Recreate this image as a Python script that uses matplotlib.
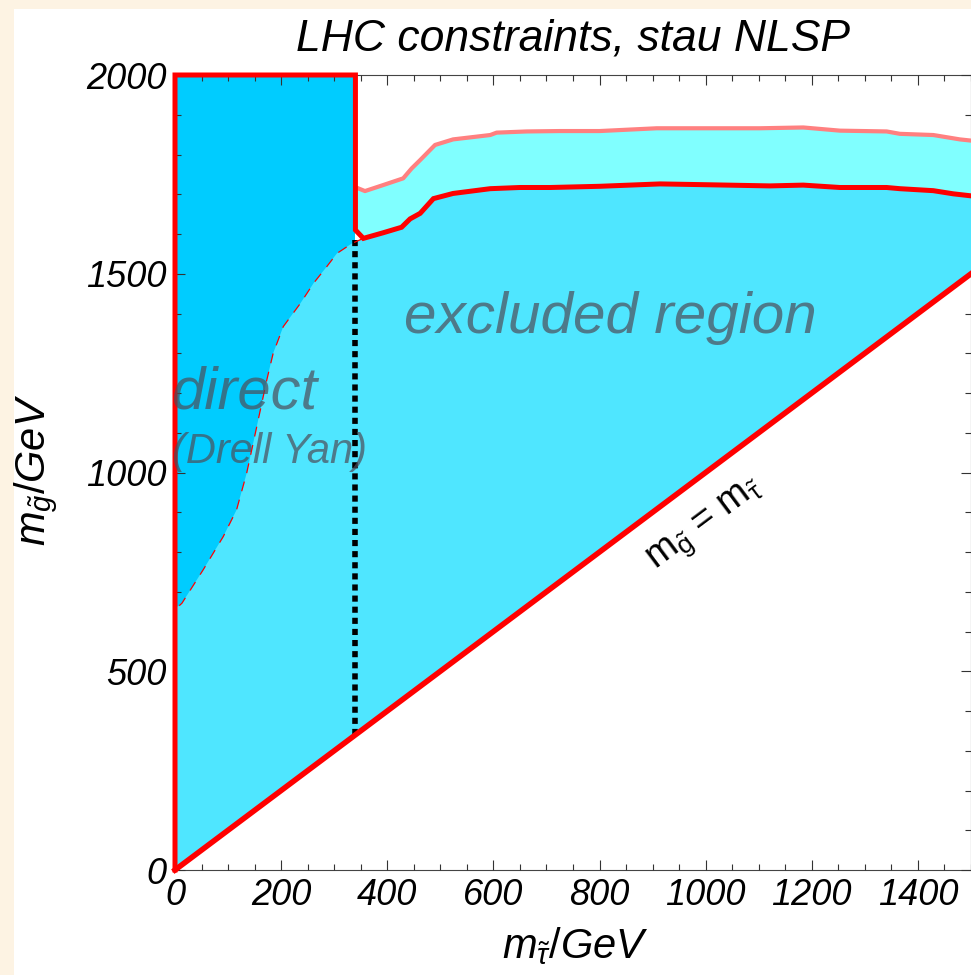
import matplotlib
matplotlib.use('Agg')
import matplotlib.pyplot as plt
from matplotlib.patches import Rectangle
from matplotlib.ticker import MultipleLocator

plt.rcParams['font.family'] = ['Liberation Sans', 'DejaVu Sans']
plt.rcParams['mathtext.fontset'] = 'custom'
plt.rcParams['mathtext.rm'] = 'Liberation Sans'
plt.rcParams['mathtext.it'] = 'Liberation Sans:italic'

# Drell-Yan direct bound on the stau mass and plot ranges
dy_bound = 340
x_max = 1500
y_max = 2000

# dashed curve: edge of the directly excluded region (Drell Yan)
dashed_x = [8, 13, 53, 91, 116, 135, 154, 173, 185, 204, 236, 261, 286, 305, 333, 355]
dashed_y = [665, 671, 755, 839, 906, 998, 1115, 1233, 1300, 1367, 1425, 1476, 1518, 1551, 1576, 1589]

# solid red curve: gluino limit
red_x = [340, 355, 392, 427, 443, 462, 487, 524, 594, 650, 707, 800, 914, 1000, 1121, 1184,
         1253, 1341, 1366, 1429, 1467, 1500]
red_y = [1610, 1589, 1603, 1617, 1638, 1652, 1689, 1702, 1714, 1717, 1717, 1720, 1726, 1724,
         1721, 1723, 1717, 1717, 1714, 1709, 1701, 1696]

# light red curve: expected / upper limit
pink_x = [340, 345, 358, 392, 430, 446, 462, 490, 524, 594, 606, 663, 725, 800, 908, 1000,
          1102, 1184, 1253, 1341, 1366, 1429, 1479, 1500]
pink_y = [1718, 1715, 1708, 1723, 1740, 1765, 1786, 1824, 1838, 1849, 1855, 1858, 1859, 1859,
          1866, 1866, 1866, 1868, 1860, 1858, 1852, 1849, 1838, 1835]

# diagonal m_gluino = m_stau
diag = [0, 1500]

fig = plt.figure(figsize=(9.71, 9.75), dpi=100)
fig.patch.set_facecolor('#fdf3e3')
fig.patches.append(Rectangle((14 / 971, 0), 1, 1 - 9 / 975, transform=fig.transFigure,
                             facecolor='white', edgecolor='none', zorder=-1))

ax = fig.add_axes([175 / 971, 1 - 870 / 975, 796 / 971, 795 / 975])
ax.set_facecolor('white')

# direct (Drell Yan) region, above the diagonal
ax.fill([0, 0, dy_bound, dy_bound], [0, y_max, y_max, dy_bound], color='#00ccff', lw=0, zorder=1)

# excluded region below the gluino limit
poly_x = [0, 0] + dashed_x + red_x[2:] + [x_max]
poly_y = [0, 660] + dashed_y + red_y[2:] + [diag[1]]
ax.fill(poly_x, poly_y, color='#4fe6ff', lw=0, zorder=2)

# band between limit curves
ax.fill(pink_x + red_x[::-1], pink_y + red_y[::-1], color='#80ffff', lw=0, zorder=2)

ax.plot(dashed_x, dashed_y, color='red', lw=0.9, dashes=(8, 7), zorder=4)
ax.plot(pink_x, pink_y, color='#ff8080', lw=3.0, zorder=4, solid_joinstyle='round')
ax.plot([0, 0, dy_bound] + red_x, [0, y_max, y_max] + red_y, color='red', lw=3.6,
        zorder=5, clip_on=False, solid_joinstyle='miter')
ax.plot(diag, diag, color='red', lw=4, zorder=5, clip_on=False)
ax.plot([dy_bound, dy_bound], [dy_bound, red_y[1]], color='black', lw=4,
        linestyle=(0, (1.1, 0.9)), zorder=3)

text_col = (0.3, 0.3, 0.35, 0.7)
ax.text(820, 1351, 'excluded region', fontsize=42, style='italic', color=text_col,
        ha='center', va='baseline', zorder=6)
ax.text(-6, 1162, 'direct', fontsize=43, style='italic', color=text_col,
        ha='left', va='baseline', zorder=6, clip_on=False)
ax.text(-6, 1025, '(Drell Yan)', fontsize=30, style='italic', color=text_col,
        ha='left', va='baseline', zorder=6, clip_on=False)
ax.text(1000, 866, r'$\mathrm{m_{\tilde{g}}}$ = $\mathrm{m_{\tilde{\tau}}}$', fontsize=27,
        rotation=36.8, ha='center', va='center', rotation_mode='anchor', zorder=6)

ax.set_xlim(0, x_max)
ax.set_ylim(0, y_max)
ax.xaxis.set_major_locator(MultipleLocator(200))
ax.xaxis.set_minor_locator(MultipleLocator(50))
ax.yaxis.set_major_locator(MultipleLocator(500))
ax.yaxis.set_minor_locator(MultipleLocator(100))
ax.tick_params(which='both', direction='in', top=True, right=True, color='#333333',
               width=0.8, labelsize=26)
ax.tick_params(which='major', length=7.5, pad=6)
ax.tick_params(which='minor', length=4.5)
for lab in ax.get_xticklabels() + ax.get_yticklabels():
    lab.set_style('italic')
for side in ['top', 'bottom', 'left', 'right']:
    ax.spines[side].set_color('#444444')
    ax.spines[side].set_linewidth(0.8)
    ax.spines[side].set_zorder(0.5)

ax.set_title('LHC constraints, stau NLSP', fontsize=32, style='italic', pad=18)
fig.text(575 / 971, 1 - 958 / 975, r'$m_{\tilde{\tau}}/GeV$', fontsize=30,
         ha='center', va='baseline')
fig.text(36 / 971, 1 - 470 / 975, r'$m_{\tilde{g}}/GeV$', fontsize=30,
         ha='center', va='center', rotation=90)

fig.savefig('out.png', dpi=100, facecolor=fig.get_facecolor())
